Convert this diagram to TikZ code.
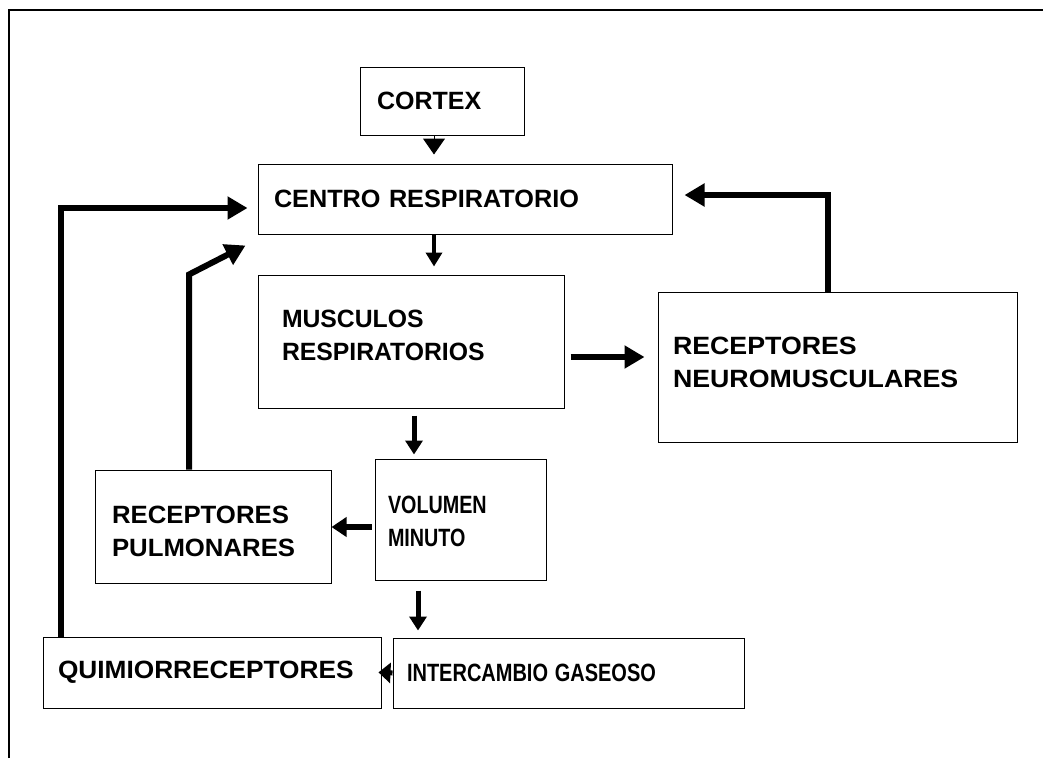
\documentclass[tikz,border=0pt]{standalone}
\usepackage{fontspec}
\setmainfont{Liberation Sans}
\usetikzlibrary{arrows.meta}
\newcommand\tl[3]{\raisebox{#2}[\height][\depth]{\scalebox{#1}[1]{#3}}}
\begin{document}
\begin{tikzpicture}[x=1pt,y=-1pt,
  box/.style={draw, line width=1pt, inner sep=0pt, align=left,
    font=\fontsize{25}{33}\selectfont\bfseries},
  fatarrow/.style={line width=6pt, -{Triangle[length=20pt,width=22pt]}},
  midarrow/.style={line width=5pt, -{Triangle[length=14pt,width=17pt]}},
  headonly/.style={line width=1pt, -{Triangle[length=16pt,width=22pt]}},
  framestyle/.style={line width=1.5pt}]
\useasboundingbox (0,0) rectangle (1043,758);
\draw[framestyle] (9,758) -- (9,10) -- (1043,10);

\node[box, minimum width=164pt, minimum height=68pt, text width=130pt] (cortex) at (442,101) {\tl{1}{0pt}{CORTEX}};
\node[box, minimum width=414pt, minimum height=70pt, text width=382pt] (centro) at (465,199) {\tl{1.01}{0pt}{CENTRO RESPIRATORIO}};
\node[box, minimum width=306pt, minimum height=133pt, text width=258pt] (musc) at (411,341.5) {\tl{0.99}{6pt}{MUSCULOS}\\\tl{0.99}{6pt}{RESPIRATORIOS}};
\node[box, minimum width=359pt, minimum height=150pt, text width=329pt] (neuro) at (837.5,367) {\tl{1.07}{5pt}{RECEPTORES}\\\tl{1.07}{5pt}{NEUROMUSCULARES}};
\node[box, minimum width=236pt, minimum height=113pt, text width=202pt] (pulm) at (213,526.5) {\tl{1.03}{-5pt}{RECEPTORES}\\\tl{1.03}{-5pt}{PULMONARES}};
\node[box, minimum width=171pt, minimum height=121pt, text width=145pt] (vol) at (460.5,519.5) {\tl{0.79}{-1.5pt}{VOLUMEN}\\\tl{0.79}{-1.5pt}{MINUTO}};
\node[box, minimum width=351pt, minimum height=70pt, text width=323pt] (inter) at (568.5,673) {\tl{0.8}{0pt}{INTERCAMBIO GASEOSO}};
\node[box, minimum width=338pt, minimum height=71pt, text width=308pt] (quimio) at (212,672.5) {\tl{1.05}{0pt}{QUIMIORRECEPTORES}};

% connectors
\draw[headonly, shorten >=9pt] ([xshift=-8pt]cortex.south) -- ([xshift=-31pt]centro.north);
\draw[line width=4pt, -{Triangle[length=14pt,width=16pt]}, shorten >=8pt] ([xshift=-31pt]centro.south) -- ([xshift=23pt]musc.north);
\draw[fatarrow, shorten <=6pt, shorten >=13pt] ([yshift=-15.5pt]musc.east) -- ([yshift=10pt]neuro.west);
\draw[fatarrow, shorten >=12pt] ([xshift=-9.5pt]neuro.north) |- ([yshift=4pt]centro.east);
\draw[midarrow, shorten <=7pt, shorten >=4pt] ([xshift=3pt]musc.south) -- ([xshift=-46.5pt]vol.north);
\draw[line width=6pt, -{Triangle[length=15pt,width=19pt]}, shorten <=3pt] ([yshift=-7.5pt]vol.west) -- ([yshift=-0.5pt]pulm.east);
\draw[midarrow, shorten <=10pt, shorten >=7pt] ([xshift=-42.5pt]vol.south) -- ([xshift=-150.5pt]inter.north);
\draw[line width=5pt, -{Triangle[length=12pt,width=20pt]}, shorten >=-3pt] (inter.west) -- (quimio.east);
\draw[fatarrow, shorten >=10pt] ([xshift=-151pt]quimio.north) |- ([yshift=-9pt]centro.west);
\draw[fatarrow] ([xshift=-24pt]pulm.north) -- ++(0,-195) -- ([xshift=-12pt,yshift=-11pt]centro.south west);
\end{tikzpicture}
\end{document}
